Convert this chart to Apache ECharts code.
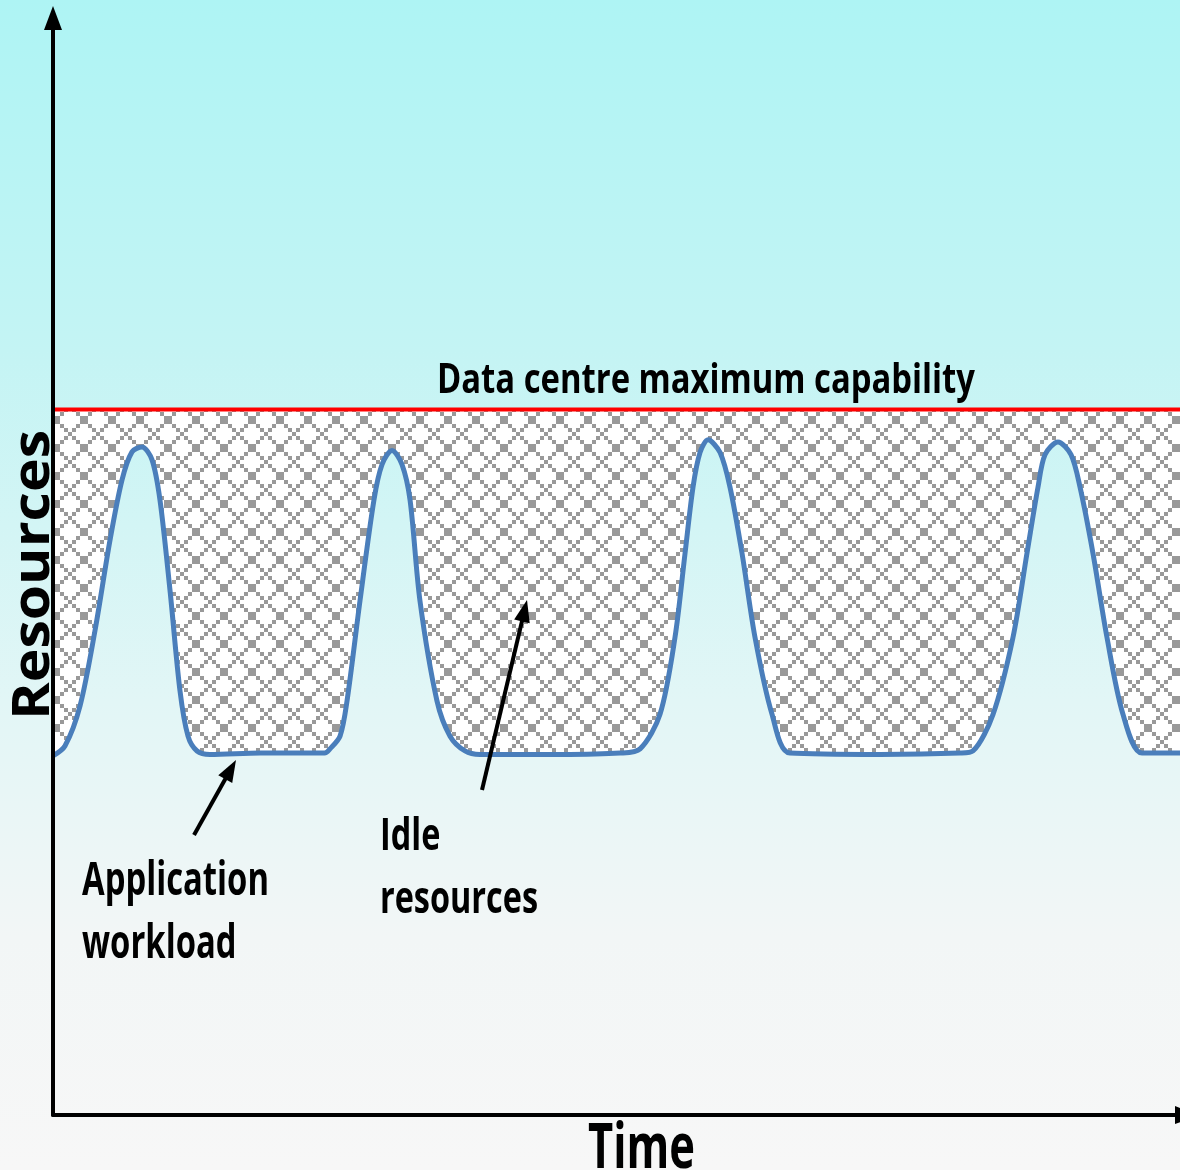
<!DOCTYPE html>
<html><head><meta charset="utf-8">
<script src="https://cdn.jsdelivr.net/npm/echarts@6/dist/echarts.min.js"></script>
<style>html,body{margin:0;padding:0;background:#f7f7f7}#c{width:1180px;height:1170px}</style>
</head><body><div id="c"></div><script>
// ---- data (time 0..100, resources with capacity = 100) ----
const timeX = [0,1.06,2.40,3.73,5.06,6.12,7.01,7.90,8.78,9.49,10.38,11.27,11.98,12.78,13.93,
  18.4,24.1,
  24.58,25.47,26.09,27.24,28.48,29.19,30.08,30.97,31.68,32.56,34.07,35.23,36.56,37.89,
  44.99,50.31,
  52.09,53.86,55.19,56.08,56.79,57.41,58.12,59.19,60.07,61.14,62.29,63.80,65.39,
  73.38,80.48,
  81.63,83.41,85.18,86.42,87.40,88.02,89.17,90.33,91.13,92.28,93.52,94.94,96.63,100];
const workload = [50.9,52.3,58.0,68.7,81.5,90.0,94.0,94.7,92.9,87.2,74.4,60.1,53.7,51.6,51.1,
  51.3,51.3,
  51.9,53.7,58.7,72.9,87.2,92.2,94.2,92.2,87.2,72.9,58.7,53.7,51.6,51.1,
  51.1,51.3,
  51.9,56.8,67.7,79.6,89.0,93.9,95.7,93.9,89.0,79.6,67.7,56.8,51.3,
  51.1,51.3,
  51.6,56.8,67.7,79.6,89.0,93.6,95.4,93.6,89.0,79.6,67.7,56.8,51.3,51.3];
const capacity = 100;
const capacityLabel = 'Data centre maximum capability';
const yTitle = 'Resources';
const xTitle = 'Time';
const workloadLabel = ['Application', 'workload'];
const idleLabel = ['Idle', 'resources'];

// ---- helpers ----
function makeHatch(){
  const p = 28, s = 4;
  const c = document.createElement('canvas'); c.width = p; c.height = p;
  const g = c.getContext('2d');
  g.fillStyle = '#ffffff'; g.fillRect(0,0,p,p);
  g.fillStyle = '#999999';
  for (let k = 0; k < 7; k++) { g.fillRect(k*s, k*s, s, s); g.fillRect(p-s-k*s, k*s, s, s); }
  return c;
}
const mctx = document.createElement('canvas').getContext('2d');
function fitScale(lines, font, target){
  mctx.font = font;
  const w = Math.max(...lines.map(l => mctx.measureText(l).width));
  return target / w;
}
function arrow(x1,y1,x2,y2){
  const dx=x2-x1, dy=y2-y1, L=Math.hypot(dx,dy), ux=dx/L, uy=dy/L;
  const hl=22, hw=8, bx=x2-ux*hl, by=y2-uy*hl;
  return [
    {type:'line', z:20, shape:{x1:x1,y1:y1,x2:bx+ux*3,y2:by+uy*3}, style:{stroke:'#000',lineWidth:4}},
    {type:'polygon', z:20, shape:{points:[[x2,y2],[bx-uy*hw,by+ux*hw],[bx+uy*hw,by-ux*hw]]}, style:{fill:'#000'}}
  ];
}
function txt(text, x, y, font, sx, extra){
  return Object.assign({type:'text', z:20, x:x, y:y, scaleX:sx,
    style:{text:text, font:font, fill:'#000', align:'left', verticalAlign:'middle'}}, extra||{});
}
const FF = '"Open Sans"';
const f1 = 'bold 42px ' + FF, s1 = fitScale([capacityLabel], f1, 538);
const f2 = 'bold 52px ' + FF, s2 = fitScale([yTitle], f2, 290);
const f3 = 'bold 62px ' + FF, s3 = fitScale([xTitle], f3, 107);
const f4 = 'bold 46px ' + FF, s4 = fitScale(workloadLabel, f4, 187);
const f5 = 'bold 45px ' + FF, s5 = fitScale(idleLabel, f5, 158);

const data = timeX.map((t,i) => [t, workload[i]]);
const chart = echarts.init(document.getElementById('c'), null, {renderer:'canvas'});
chart.setOption({
  animation:false,
  backgroundColor:{type:'linear', x:0, y:0, x2:0, y2:1, colorStops:[
    {offset:0, color:'#aef4f4'}, {offset:0.3, color:'#c4f4f4'}, {offset:0.6, color:'#e2f6f6'},
    {offset:0.8, color:'#f2f6f6'}, {offset:1, color:'#f7f7f7'}]},
  grid:{left:53, right:0, top:18, bottom:55, containLabel:false},
  xAxis:{type:'value', min:0, max:100, z:10,
    axisLine:{show:true, onZero:false, symbol:['none','triangle'], symbolSize:[18,24], symbolOffset:[0,7],
      lineStyle:{color:'#000', width:4}},
    axisTick:{show:false}, axisLabel:{show:false}, splitLine:{show:false}},
  yAxis:{type:'value', min:0, max:155.5, z:10,
    axisLine:{show:true, onZero:false, symbol:['none','triangle'], symbolSize:[18,24],
      lineStyle:{color:'#000', width:4}},
    axisTick:{show:false}, axisLabel:{show:false}, splitLine:{show:false}},
  series:[
    {type:'line', name:'workload', data:data, smooth:0.3, symbol:'none', z:3,
      lineStyle:{color:'#4a7ebb', width:5},
      areaStyle:{color:{image:makeHatch(), repeat:'repeat'}, opacity:1, origin:capacity}},
    {type:'line', name:'capacity', data:[[0,capacity],[100,capacity]], symbol:'none', z:4,
      lineStyle:{color:'#ff0000', width:4}}
  ],
  graphic:[
    txt(capacityLabel, 437, 393 - 0.285*42, f1, s1),
    txt(yTitle, 49 - 0.285*52, 575, f2, s2, {rotation:Math.PI/2, style:{text:yTitle, font:f2, fill:'#000', align:'center', verticalAlign:'middle'}}),
    txt(xTitle, 588, 1168 - 0.285*62, f3, s3),
    txt(workloadLabel[0], 82, 895 - 0.285*46, f4, s4),
    txt(workloadLabel[1], 82, 958 - 0.285*46, f4, s4),
    txt(idleLabel[0], 380, 850 - 0.285*45, f5, s5),
    txt(idleLabel[1], 380, 913 - 0.285*45, f5, s5),
    ...arrow(194, 835, 236, 760),
    ...arrow(482, 790, 527, 600)
  ]
});
</script></body></html>
